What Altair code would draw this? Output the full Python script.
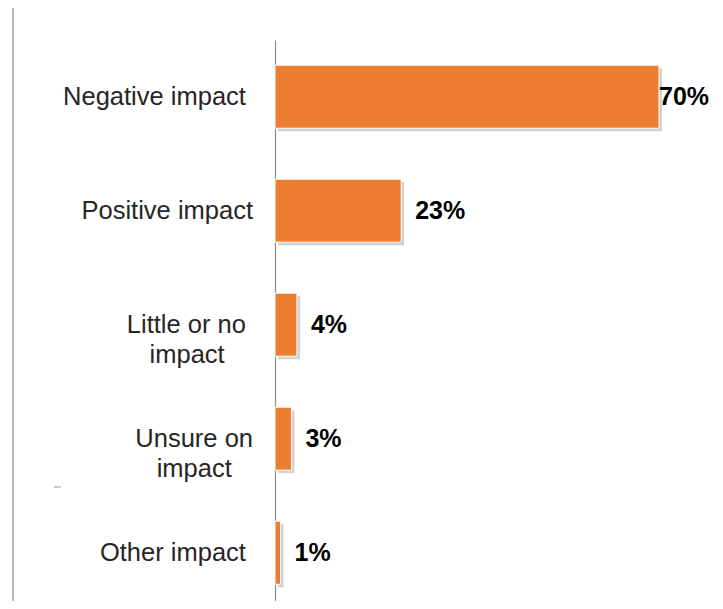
import altair as alt
import pandas as pd

categories = ["Negative impact", "Positive impact", "Little or no impact", "Unsure on impact", "Other impact"]
values = [70, 23, 4, 3, 1]
value_labels = ["70%", "23%", "4%", "3%", "1%"]
NB = "\u00a0"
WJ = "\u2060"
display_labels = [
    "Negative impact" + NB + WJ,
    "Positive impact",
    "Little or no" + NB + WJ + "\nimpact" + NB * 4 + WJ,
    "Unsure on\nimpact" + NB * 3 + WJ,
    "Other impact" + NB + WJ,
]

df = pd.DataFrame({
    "category": categories,
    "value": values,
    "vlabel": value_labels,
    "dlabel": display_labels,
})

FONT = "Liberation Sans"
ORANGE = "#ED7D31"

yenc = alt.Y(
    "category:N",
    sort=categories,
    scale=alt.Scale(paddingInner=0.447, paddingOuter=0.184, align=0.6),
    axis=alt.Axis(labels=False, ticks=False, title=None, domain=True, grid=False,
                  domainColor="#8c8c8c", domainWidth=1.2),
)
xscale = alt.Scale(domain=[0, 70], clamp=True)
xenc = alt.X("value:Q", scale=xscale, axis=None)

base = alt.Chart(df)

shadow = base.mark_bar(color="#000000", opacity=0.18, xOffset=3, yOffset=3, y2Offset=3).encode(
    x=xenc, y=yenc
)
bars = base.mark_bar(color=ORANGE, stroke="#ffffff", strokeWidth=1).encode(x=xenc, y=yenc)

vals = base.transform_calculate(lx="min(datum.value + 2.55, 70)").mark_text(
    align="left", baseline="middle", font=FONT, fontSize=25, fontWeight="bold", color="#000000"
).encode(
    x=alt.X("lx:Q", scale=xscale, axis=None),
    y=yenc,
    text="vlabel:N",
)

labels = base.mark_text(
    align="right", baseline="middle", font=FONT, fontSize=25.5, color="#262626",
    lineBreak="\n", lineHeight=30,
).encode(
    x=alt.value(-22),
    y=yenc,
    text="dlabel:N",
)

left_line = alt.Chart(pd.DataFrame({"k": [0]})).mark_rule(color="#8c8c8c", strokeWidth=1.2).encode(
    x=alt.value(-262), y=alt.value(-35), y2=alt.value(561)
)
dash = alt.Chart(pd.DataFrame({"k": [0]})).mark_rule(color="#999999", strokeWidth=1).encode(
    x=alt.value(-221), x2=alt.value(-214), y=alt.value(447)
)

chart = alt.layer(shadow, bars, vals, labels, left_line, dash).properties(
    width=384,
    height=561,
    autosize=alt.AutoSizeParams(type="none"),
    padding={"left": 267, "top": 32, "right": 55, "bottom": 0},
    view=alt.ViewBackground(stroke="transparent", strokeWidth=0),
).configure_view(stroke="transparent", strokeWidth=0).configure(background="#ffffff")

chart.save("out.html", embed_options={"renderer": "svg", "actions": False})
